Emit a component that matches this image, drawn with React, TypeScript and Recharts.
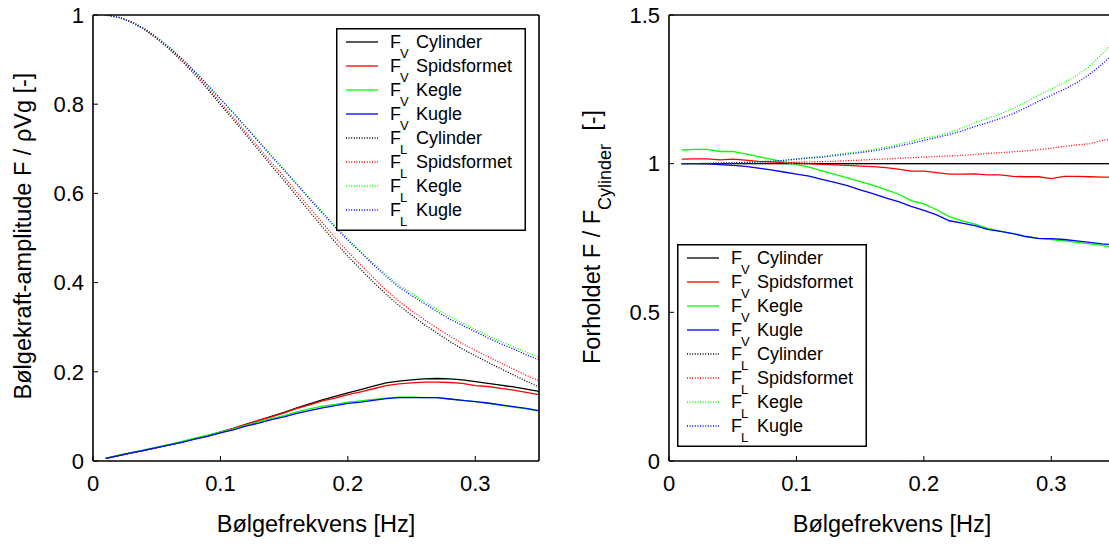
import React from "react";
import { LineChart, Line, XAxis, YAxis, Legend, Label } from "recharts";

const freq = [
  0.01, 0.02, 0.03, 0.04, 0.05, 0.06, 0.07, 0.08, 0.09, 0.1, 0.11, 0.12, 0.13, 0.14, 0.15, 0.16, 0.17, 0.18,
  0.19, 0.2, 0.21, 0.22, 0.23, 0.24, 0.25, 0.26, 0.27, 0.28, 0.29, 0.3, 0.31, 0.32, 0.33, 0.34, 0.35,
];

// left panel: amplitude F / rho V g
const fvCylinder = [
  0.006, 0.012, 0.018, 0.024, 0.03, 0.036, 0.043, 0.05, 0.057, 0.065, 0.073, 0.082, 0.091, 0.1, 0.109, 0.119,
  0.128, 0.137, 0.145, 0.153, 0.16, 0.168, 0.175, 0.179, 0.182, 0.184, 0.185, 0.184, 0.182, 0.178, 0.174, 0.17,
  0.166, 0.161, 0.156,
];
const fvSpids = [
  0.006, 0.012, 0.018, 0.024, 0.03, 0.036, 0.043, 0.05, 0.057, 0.065, 0.073, 0.082, 0.091, 0.099, 0.108, 0.118,
  0.126, 0.135, 0.141, 0.149, 0.155, 0.162, 0.169, 0.173, 0.175, 0.177, 0.177, 0.176, 0.174, 0.169, 0.167, 0.163,
  0.159, 0.154, 0.149,
];
const fvKegle = [
  0.006, 0.013, 0.019, 0.025, 0.031, 0.037, 0.044, 0.051, 0.058, 0.065, 0.072, 0.08, 0.088, 0.095, 0.102, 0.11,
  0.117, 0.123, 0.127, 0.132, 0.135, 0.138, 0.141, 0.143, 0.143, 0.142, 0.142, 0.139, 0.136, 0.133, 0.129, 0.125,
  0.121, 0.117, 0.112,
];
const fvKugle = [
  0.006, 0.012, 0.018, 0.024, 0.03, 0.036, 0.042, 0.049, 0.055, 0.063, 0.07, 0.078, 0.085, 0.093, 0.099, 0.107,
  0.113, 0.119, 0.124, 0.129, 0.132, 0.136, 0.14, 0.142, 0.142, 0.142, 0.142, 0.139, 0.136, 0.133, 0.13, 0.126,
  0.122, 0.118, 0.113,
];
const flCylinder = [
  1.0, 0.995, 0.984, 0.968, 0.947, 0.923, 0.896, 0.866, 0.834, 0.799, 0.766, 0.732, 0.697, 0.662, 0.629, 0.594,
  0.559, 0.525, 0.491, 0.459, 0.43, 0.401, 0.374, 0.349, 0.327, 0.306, 0.287, 0.268, 0.251, 0.236, 0.221, 0.207,
  0.193, 0.179, 0.166,
];
const flSpids = [
  1.0, 0.995, 0.984, 0.969, 0.948, 0.925, 0.898, 0.869, 0.837, 0.803, 0.771, 0.737, 0.703, 0.669, 0.637, 0.602,
  0.568, 0.534, 0.501, 0.469, 0.44, 0.411, 0.383, 0.358, 0.337, 0.317, 0.298, 0.28, 0.263, 0.248, 0.234, 0.22,
  0.206, 0.192, 0.18,
];
const flKegle = [
  1.0, 0.995, 0.985, 0.97, 0.95, 0.927, 0.901, 0.873, 0.843, 0.812, 0.781, 0.75, 0.718, 0.686, 0.654, 0.622,
  0.59, 0.559, 0.528, 0.498, 0.47, 0.443, 0.418, 0.395, 0.376, 0.357, 0.34, 0.324, 0.309, 0.295, 0.281, 0.268,
  0.256, 0.244, 0.233,
];
const flKugle = [
  1.0, 0.995, 0.985, 0.97, 0.95, 0.927, 0.901, 0.873, 0.843, 0.811, 0.781, 0.748, 0.716, 0.683, 0.652, 0.62,
  0.587, 0.556, 0.524, 0.495, 0.468, 0.44, 0.414, 0.39, 0.371, 0.353, 0.335, 0.318, 0.304, 0.29, 0.276, 0.263,
  0.251, 0.238, 0.227,
];

// right panel: ratio F / F_Cylinder
const rvCylinder = [
  1, 1, 1, 1, 1, 1, 1, 1, 1, 1, 1, 1, 1, 1, 1, 1, 1, 1, 1, 1, 1, 1, 1, 1, 1, 1, 1, 1, 1, 1, 1, 1, 1, 1, 1,
];
const rvSpids = [
  1.015, 1.016, 1.016, 1.013, 1.015, 1.012, 1.008, 1.006, 1.004, 1.002, 1.0, 0.998, 0.996, 0.994, 0.992, 0.99,
  0.987, 0.982, 0.975, 0.975, 0.97, 0.965, 0.965, 0.966, 0.962, 0.962, 0.957, 0.956, 0.956, 0.95, 0.957, 0.957,
  0.956, 0.955, 0.955,
];
const rvKegle = [
  1.046, 1.048, 1.048, 1.041, 1.041, 1.033, 1.024, 1.015, 1.006, 0.997, 0.988, 0.976, 0.964, 0.952, 0.94, 0.928,
  0.913, 0.898, 0.876, 0.865, 0.845, 0.822, 0.808, 0.797, 0.782, 0.773, 0.765, 0.755, 0.748, 0.745, 0.74, 0.735,
  0.73, 0.725, 0.718,
];
const rvKugle = [
  1.0, 1.0, 0.999, 0.997, 0.994, 0.991, 0.985, 0.979, 0.972, 0.965, 0.958, 0.947, 0.937, 0.926, 0.912, 0.899,
  0.885, 0.872, 0.856, 0.843, 0.828, 0.808, 0.8, 0.792, 0.779, 0.772, 0.765, 0.755, 0.749, 0.748, 0.745, 0.74,
  0.735, 0.73, 0.727,
];
const rlCylinder = [
  1, 1, 1, 1, 1, 1, 1, 1, 1, 1, 1, 1, 1, 1, 1, 1, 1, 1, 1, 1, 1, 1, 1, 1, 1, 1, 1, 1, 1, 1, 1, 1, 1, 1, 1,
];
const rlSpids = [
  1.0, 1.0, 1.0, 1.001, 1.001, 1.002, 1.002, 1.003, 1.004, 1.005, 1.006, 1.007, 1.008, 1.01, 1.012, 1.014, 1.016,
  1.018, 1.02, 1.022, 1.024, 1.026, 1.028, 1.031, 1.034, 1.037, 1.04, 1.043, 1.047, 1.052, 1.058, 1.063, 1.067,
  1.078, 1.085,
];
const rlKegle = [
  1.0, 1.0, 1.001, 1.002, 1.003, 1.004, 1.006, 1.008, 1.011, 1.016, 1.02, 1.024, 1.03, 1.036, 1.04, 1.047, 1.055,
  1.065, 1.075, 1.086, 1.093, 1.105, 1.12, 1.138, 1.152, 1.167, 1.186, 1.207, 1.23, 1.25, 1.272, 1.297, 1.327,
  1.37, 1.41,
];
const rlKugle = [
  1.0, 1.0, 1.001, 1.002, 1.003, 1.004, 1.006, 1.008, 1.011, 1.015, 1.019, 1.022, 1.027, 1.032, 1.037, 1.043, 1.05,
  1.059, 1.068, 1.078, 1.088, 1.098, 1.11, 1.125, 1.138, 1.152, 1.168, 1.188, 1.21, 1.23, 1.25, 1.272, 1.3, 1.335,
  1.375,
];

const freqTicks = [0, 0.1, 0.2, 0.3];
const ampTicks = [0, 0.2, 0.4, 0.6, 0.8, 1];
const ratioTicks = [0, 0.5, 1, 1.5];

const shapeNames = ["Cylinder", "Spidsformet", "Kegle", "Kugle"];
const shapeColors = ["#000000", "#ff0000", "#00ff00", "#0000ff"];

const leftRows = freq.map((f, i) => ({
  f,
  v0: fvCylinder[i], v1: fvSpids[i], v2: fvKegle[i], v3: fvKugle[i],
  l0: flCylinder[i], l1: flSpids[i], l2: flKegle[i], l3: flKugle[i],
}));
const rightRows = freq.map((f, i) => ({
  f,
  v0: rvCylinder[i], v1: rvSpids[i], v2: rvKegle[i], v3: rvKugle[i],
  l0: rlCylinder[i], l1: rlSpids[i], l2: rlKegle[i], l3: rlKugle[i],
}));

const series = [
  ...shapeNames.map((name, i) => ({ key: "v" + i, force: "V", name, color: shapeColors[i], dotted: false })),
  ...shapeNames.map((name, i) => ({ key: "l" + i, force: "L", name, color: shapeColors[i], dotted: true })),
];

const FONT = '"Liberation Sans", Arial, Helvetica, sans-serif';
const DOTS = "1 1.6";

const LegendBox = ({ w, h }: { w: number; h: number }) => (
  <svg width={w} height={h} style={{ display: "block", fontFamily: FONT }}>
    <rect x={0.75} y={0.75} width={w - 1.5} height={h - 1.5} fill="#fff" stroke="#000" strokeWidth={1.5} />
    {series.map((s, i) => {
      const cy = 14 + 24 * i;
      return (
        <g key={s.key}>
          <line x1={10} x2={42} y1={cy} y2={cy} stroke={s.color} strokeWidth={1.3}
            strokeDasharray={s.dotted ? DOTS : undefined} />
          <text x={54} y={cy + 6.4} fontSize={18} fill="#000">F</text>
          <text x={64} y={cy + 15.5} fontSize={13} fill="#000">{s.force}</text>
          <text x={80} y={cy + 6.4} fontSize={18} fill="#000">{s.name}</text>
        </g>
      );
    })}
  </svg>
);

const axisProps = {
  stroke: "#000",
  axisLine: { stroke: "#000", strokeWidth: 1.6 },
  tickLine: { stroke: "#000", strokeWidth: 1 },
  tickSize: -5,
  interval: 0 as const,
};
const tickStyle = { fill: "#000", fontSize: 22, fontFamily: FONT };

const xTitle = (props: any) => {
  const vb = props.viewBox || { x: 0, y: 0, width: 0 };
  return (
    <text x={vb.x + vb.width / 2} y={vb.y + 71} textAnchor="middle" fontSize={23.5} fill="#000" fontFamily={FONT}>
      Bølgefrekvens [Hz]
    </text>
  );
};

const leftYTitle = (props: any) => {
  const vb = props.viewBox || { x: 0, y: 0, height: 0 };
  const cx = vb.x + 31;
  const cy = vb.y + 221;
  return (
    <text x={cx} y={cy} transform={`rotate(-90 ${cx} ${cy})`} textAnchor="middle" fontSize={23.5} fill="#000"
      fontFamily={FONT}>
      Bølgekraft-amplitude F / ρVg  [-]
    </text>
  );
};

const rightYTitle = (props: any) => {
  const vb = props.viewBox || { x: 0, y: 0, height: 0 };
  const cx = vb.x + 40;
  const cy = vb.y + 222;
  return (
    <text x={cx} y={cy} transform={`rotate(-90 ${cx} ${cy})`} textAnchor="middle" fontSize={23.5} fill="#000"
      fontFamily={FONT} style={{ whiteSpace: "pre" }}>
      <tspan>Forholdet F / F</tspan>
      <tspan dy={11} fontSize={18}>Cylinder</tspan>
      <tspan dy={-11}>{"  [-]"}</tspan>
    </text>
  );
};

const renderLines = () =>
  series.map((s) => (
    <Line
      key={s.key}
      xAxisId="b"
      yAxisId="l"
      type="linear"
      dataKey={s.key}
      stroke={s.color}
      strokeWidth={1.3}
      strokeDasharray={s.dotted ? DOTS : undefined}
      dot={false}
      activeDot={false}
      isAnimationActive={false}
    />
  ));

const Panel = ({ data, yTicks, yMax, yWidth, chartLeft, legendPos, yTitle }: any) => (
  <div style={{ position: "absolute", left: chartLeft, top: 0 }}>
    <LineChart width={560} height={545} data={data} margin={{ top: 14, right: chartLeft === 0 ? 20 : 4, bottom: 0, left: 0 }}>
      <XAxis {...axisProps} xAxisId="b" type="number" dataKey="f" domain={[0, 0.35]} ticks={freqTicks}
        allowDataOverflow height={84} tickMargin={19} tick={tickStyle}>
        <Label content={xTitle} />
      </XAxis>
      <XAxis {...axisProps} xAxisId="t" orientation="top" type="number" dataKey="f" domain={[0, 0.35]}
        ticks={freqTicks} allowDataOverflow height={1} tick={false} />
      <YAxis {...axisProps} yAxisId="l" type="number" domain={[0, yMax]} ticks={yTicks} allowDataOverflow
        width={yWidth} tickMargin={14} tick={tickStyle}>
        <Label content={yTitle} />
      </YAxis>
      <YAxis {...axisProps} yAxisId="r" orientation="right" type="number" domain={[0, yMax]} ticks={yTicks}
        allowDataOverflow width={1} tick={false} />
      {renderLines()}
      <Legend
        layout="vertical"
        align="center"
        verticalAlign="middle"
        wrapperStyle={{ left: legendPos.x, top: legendPos.y, width: 190, height: 203 }}
        content={() => <LegendBox w={190} h={203} />}
      />
    </LineChart>
  </div>
);

export default function App() {
  return (
    <div
      style={{
        position: "absolute",
        left: 0,
        top: 0,
        width: 1109,
        height: 545,
        overflow: "hidden",
        background: "#fff",
        fontFamily: FONT,
      }}
    >
      <Panel data={leftRows} yTicks={ampTicks} yMax={1} yWidth={93} chartLeft={0}
        legendPos={{ x: 336, y: 28 }} yTitle={leftYTitle} />
      <Panel data={rightRows} yTicks={ratioTicks} yMax={1.5} yWidth={109} chartLeft={560}
        legendPos={{ x: 117, y: 244 }} yTitle={rightYTitle} />
    </div>
  );
}
